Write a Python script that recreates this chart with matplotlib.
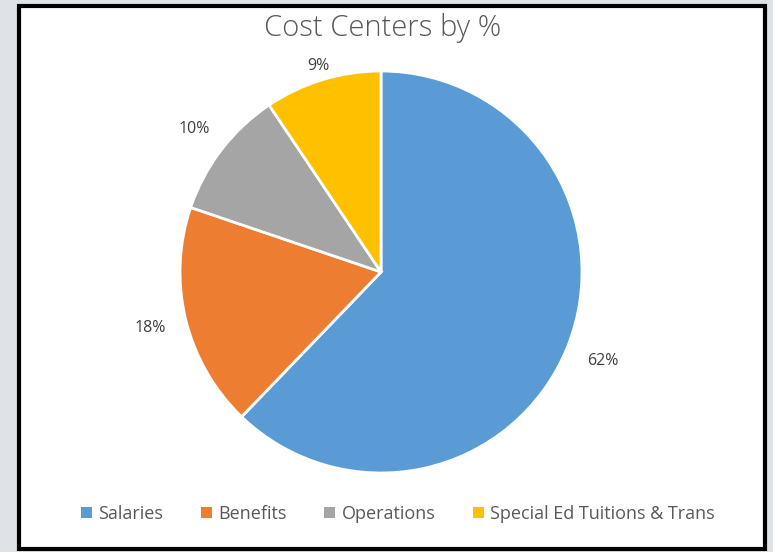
import numpy as np
import matplotlib
matplotlib.use("Agg")
import matplotlib.pyplot as plt
from matplotlib.patches import Rectangle, Patch

categories = ["Salaries", "Benefits", "Operations", "Special Ed Tuitions & Trans"]
values = [62.2, 18.0, 10.4, 9.4]
colors = ["#5B9BD5", "#ED7D31", "#A5A5A5", "#FFC000"]
title = "Cost Centers by %"

plt.rcParams['font.family'] = ['Open Sans', 'DejaVu Sans']

W, H = 773, 552
fig = plt.figure(figsize=(W / 100, H / 100), dpi=100, facecolor="#dfe3e8")

# white chart panel with black border
fig.patches.append(Rectangle((19 / W, 3 / H), (765 - 19) / W, (546 - 3) / H,
                             transform=fig.transFigure, facecolor="white",
                             edgecolor="black", linewidth=3, zorder=-10))

cx, cy, r = 381, 272, 201
ax = fig.add_axes([(cx - r) / W, (H - cy - r) / H, 2 * r / W, 2 * r / H], zorder=5)
wedges, _ = ax.pie(values, colors=colors, startangle=90, counterclock=False,
                   radius=1, wedgeprops=dict(edgecolor="white", linewidth=2))
ax.set_xlim(-1, 1)
ax.set_ylim(-1, 1)
ax.axis("off")

dists = [1.19, 1.18, 1.17, 1.07]
total = sum(values)
for w, v, d in zip(wedges, values, dists):
    ang = np.deg2rad((w.theta1 + w.theta2) / 2)
    ax.text(d * np.cos(ang), d * np.sin(ang), f"{round(v / total * 100):.0f}%",
            ha="center", va="center", fontsize=11.5, color="#404040", clip_on=False)

fig.text(383 / W, 1 - 28 / H, title, ha="center", va="center",
         fontsize=21, color="#595959", fontweight="light")

handles = [Patch(facecolor=c, edgecolor="none") for c in colors]
fig.legend(handles, categories, loc="center", bbox_to_anchor=(398 / W, 1 - 514 / H),
           ncol=4, frameon=False, fontsize=13, labelcolor="#595959",
           handlelength=0.6, handleheight=0.6, handletextpad=0.35, columnspacing=2.1)

fig.savefig("out.png", dpi=100, facecolor=fig.get_facecolor())
